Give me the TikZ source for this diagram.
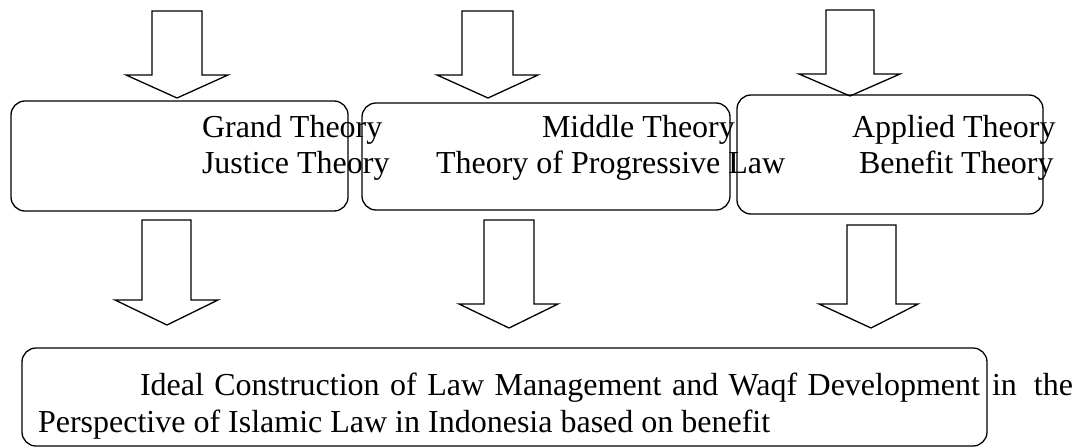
\documentclass[tikz,border=0pt]{standalone}
\usepackage{fontspec}
\setmainfont{Liberation Serif}
\begin{document}
\begin{tikzpicture}[x=1pt,y=-1pt,
  box/.style={draw, line width=1.3pt, rounded corners=14pt, inner sep=0pt, outer sep=0pt},
  lbl/.style={inner sep=0pt, outer sep=0pt, anchor=base west, font=\fontsize{32}{38}\selectfont},
  barrow/.style={draw, line width=1.3pt, line join=miter, fill=white}]
\useasboundingbox (0,0) rectangle (1083,447);
% top block arrows
\draw[barrow] (152,11) -- (202,11) -- (202,75) -- (228,75) -- (177,98) -- (126,75) -- (152,75) -- cycle;
\draw[barrow] (462,11) -- (513,11) -- (513,75) -- (538,75) -- (488,98) -- (437,75) -- (462,75) -- cycle;
\draw[barrow] (826,10) -- (874,10) -- (874,74) -- (900,74) -- (850,96) -- (799,74) -- (826,74) -- cycle;
% boxes
\node[box, minimum width=337pt, minimum height=110pt] (b1) at (179.5,156) {};
\node[box, minimum width=368pt, minimum height=107pt] (b2) at (546,156.5) {};
\node[box, minimum width=306pt, minimum height=119pt] (b3) at (890,154.5) {};
\node[box, minimum width=965pt, minimum height=98pt] (b4) at (504.5,397) {};
% bottom block arrows
\draw[barrow] (142,220) -- (191,220) -- (191,300) -- (218,300) -- (167,325) -- (115,300) -- (142,300) -- cycle;
\draw[barrow] (484,220) -- (534,220) -- (534,304) -- (558,304) -- (509,328) -- (459,304) -- (484,304) -- cycle;
\draw[barrow] (847,225) -- (896,225) -- (896,304) -- (918,304) -- (871,328) -- (819,304) -- (847,304) -- cycle;
% texts
\node[lbl] (t1a) at (202,137) {Grand Theory};
\node[lbl] (t1b) at (202,173) {Justice Theory};
\node[lbl] (t2a) at (542,137) {Middle Theory};
\node[lbl] (t2b) at (436,173) {Theory of Progressive Law};
\node[lbl] (t3a) at (852,137) {Applied Theory};
\node[lbl] (t3b) at (859,173) {Benefit Theory};
\node[lbl] (t4a) at (140,395) {\makebox[840pt][s]{Ideal Construction of Law Management and Waqf Development}\hspace{12pt}\makebox[81pt][s]{in the}};
\node[lbl] (t4b) at (38,432) {Perspective of Islamic Law in Indonesia based on benefit};
\end{tikzpicture}
\end{document}
